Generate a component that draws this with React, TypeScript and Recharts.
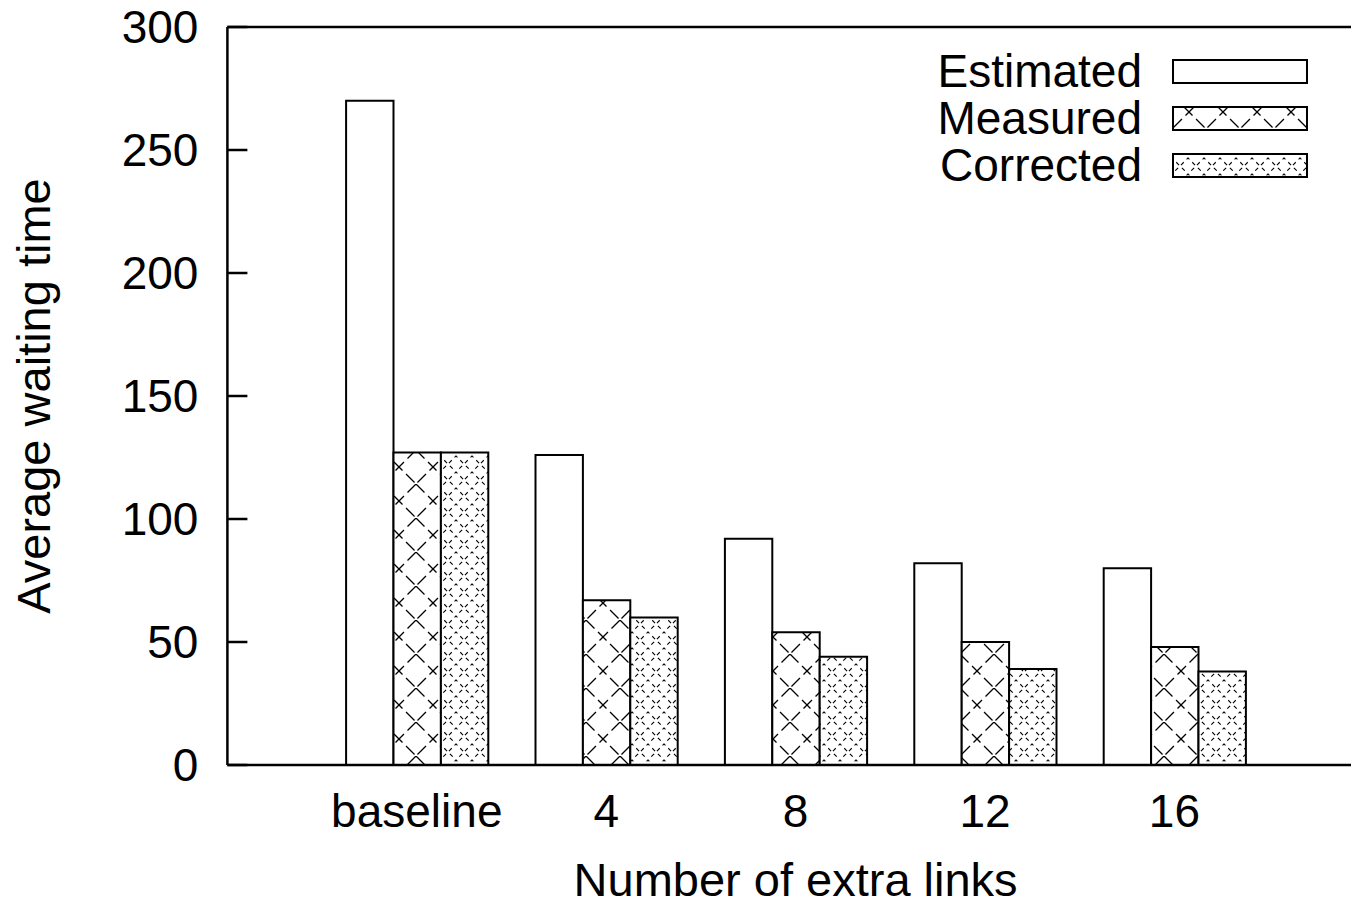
import { useEffect } from 'react'
import { Bar, BarChart, XAxis, YAxis, Legend, Label, ReferenceLine } from 'recharts'

const categories = ['baseline', '4', '8', '12', '16']
const estimated = [270, 126, 92, 82, 80]
const measured = [127, 67, 54, 50, 48]
const corrected = [127, 60, 44, 39, 38]
const yTicks = [0, 50, 100, 150, 200, 250, 300]

const series = [
  { key: 'estimated', name: 'Estimated', fill: '#ffffff' },
  { key: 'measured', name: 'Measured', fill: 'url(#patMeasured)' },
  { key: 'corrected', name: 'Corrected', fill: 'url(#patCorrected)' },
]

const data = categories.map((name, i) => ({
  name,
  estimated: estimated[i],
  measured: measured[i],
  corrected: corrected[i],
}))

const FONT = '"Liberation Sans", Arial, Helvetica, sans-serif'

function Patterns() {
  return (
    <svg width={0} height={0} style={{ position: 'absolute' }}>
      <defs>
        <pattern id='patMeasured' patternUnits='userSpaceOnUse' width={34} height={34}>
          <rect width={34} height={34} fill='#fff' />
          <path d='M0 0 L34 34 M34 0 L0 34' stroke='#000' strokeWidth={1.3} strokeDasharray='12 5' />
        </pattern>
        <pattern id='patCorrected' patternUnits='userSpaceOnUse' width={16} height={16}>
          <rect width={16} height={16} fill='#fff' />
          <path d='M0 0 L16 16 M16 0 L0 16' stroke='#000' strokeWidth={1.1} strokeDasharray='4 4' strokeDashoffset={2} />
        </pattern>
      </defs>
    </svg>
  )
}

function YTick(props: any) {
  const { x, y, payload } = props
  const axisX = x + 29
  return (
    <g>
      <line x1={axisX} x2={axisX + 20} y1={y} y2={y} stroke='#000' strokeWidth={2.5} />
      <text x={x} y={y} dy='0.355em' textAnchor='end' fontSize={46} fill='#000' fontFamily={FONT}>
        {payload.value}
      </text>
    </g>
  )
}

function LegendBox() {
  return (
    <div style={{ fontFamily: FONT, fontSize: 46, color: '#000' }}>
      {series.map((s) => (
        <div key={s.key} style={{ display: 'flex', alignItems: 'center', height: 47 }}>
          <span style={{ width: 300, textAlign: 'right', lineHeight: '47px' }}>{s.name}</span>
          <svg width={140} height={47} style={{ marginLeft: 30 }}>
            <rect x={1} y={12} width={134} height={23} fill={s.fill} stroke='#000' strokeWidth={2} />
          </svg>
        </div>
      ))}
    </div>
  )
}

export default function App() {
  useEffect(() => {
    // chart runs past the right edge like the original; keep the page from scrolling
    document.documentElement.style.overflow = 'hidden'
    document.body.style.marginRight = '0'
  }, [])

  return (
    <div style={{ position: 'relative', width: 1343, height: 895, overflow: 'hidden', fontFamily: FONT }}>
      <Patterns />
      <BarChart
        width={1380}
        height={895}
        data={data}
        margin={{ top: 19, right: 24.2, left: 10, bottom: 7 }}
        barGap={0}
        barSize={47.4}
      >
        <XAxis
          dataKey='name'
          height={131}
          padding={{ left: 94.7, right: 94.7 }}
          tickLine={false}
          tickSize={0}
          tickMargin={29}
          axisLine={{ stroke: '#000', strokeWidth: 2.5 }}
          tick={{ fontSize: 46, fill: '#000', fontFamily: FONT }}
        >
          <Label value='Number of extra links' position='insideBottom' offset={0} fontSize={47} fill='#000' fontFamily={FONT} />
        </XAxis>
        <YAxis
          width={209.4}
          domain={[0, 300]}
          ticks={yTicks}
          interval={0}
          tickLine={false}
          tickSize={0}
          tickMargin={29}
          axisLine={{ stroke: '#000', strokeWidth: 2.5 }}
          tick={<YTick />}
        >
          <Label
            value='Average waiting time'
            angle={-90}
            position='insideLeft'
            offset={15}
            fontSize={47}
            fill='#000'
            fontFamily={FONT}
            style={{ textAnchor: 'middle' }}
          />
        </YAxis>
        <ReferenceLine y={300} stroke='#000' strokeWidth={2.5} ifOverflow='visible' />
        <Legend
          layout='vertical'
          align='center'
          verticalAlign='middle'
          wrapperStyle={{ top: 40, left: 834, width: 500 }}
          content={() => <LegendBox />}
        />
        {series.map((s) => (
          <Bar
            key={s.key}
            dataKey={s.key}
            name={s.name}
            fill={s.fill}
            stroke='#000'
            strokeWidth={2}
            isAnimationActive={false}
          />
        ))}
      </BarChart>
    </div>
  )
}
